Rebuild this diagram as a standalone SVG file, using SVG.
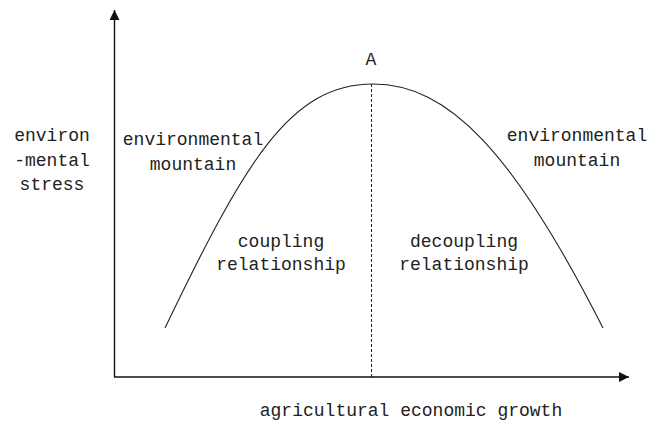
<svg xmlns="http://www.w3.org/2000/svg" width="657" height="427" viewBox="0 0 657 427">
<style>
.t{font-family:"Liberation Mono","DejaVu Sans Mono",monospace;font-size:18px;fill:#222;text-anchor:middle}
.ax{stroke:#111;stroke-width:1.4;fill:none}
.cv{stroke:#222;stroke-width:1.1;fill:none}
.ds{stroke:#222;stroke-width:1;stroke-dasharray:3 2;fill:none}
</style>
<defs>
<marker id="ah" viewBox="0 0 10 10" refX="10" refY="5" markerWidth="10" markerHeight="10" markerUnits="userSpaceOnUse" orient="auto">
<path d="M0,0 L10,5 L0,10 Z" fill="#111"/>
</marker>
</defs>
<rect width="657" height="427" fill="#fff"/>
<g id="connectors">
<line class="ax" x1="114.5" y1="377" x2="114.5" y2="10" marker-end="url(#ah)"/>
<line class="ax" x1="114" y1="377" x2="629" y2="377" marker-end="url(#ah)"/>
<path class="cv" d="M165,328 C245,161.6 290,84 373,84 C448,84 513,150.7 603,328"/>
<line class="ds" x1="371.5" y1="84" x2="371.5" y2="377"/>
</g>
<g id="label-A"><text class="t" x="371" y="65">A</text></g>
<g id="label-y"><text class="t" x="52" y="141">environ</text><text class="t" x="52" y="165.5">-mental</text><text class="t" x="52" y="190">stress</text></g>
<g id="label-mountain-left"><text class="t" x="193" y="145">environmental</text><text class="t" x="193" y="170">mountain</text></g>
<g id="label-mountain-right"><text class="t" x="577" y="141">environmental</text><text class="t" x="577" y="166">mountain</text></g>
<g id="label-coupling"><text class="t" x="281" y="247">coupling</text><text class="t" x="281" y="270">relationship</text></g>
<g id="label-decoupling"><text class="t" x="464" y="247">decoupling</text><text class="t" x="464" y="270">relationship</text></g>
<g id="label-x"><text class="t" x="411" y="416">agricultural economic growth</text></g>
</svg>
